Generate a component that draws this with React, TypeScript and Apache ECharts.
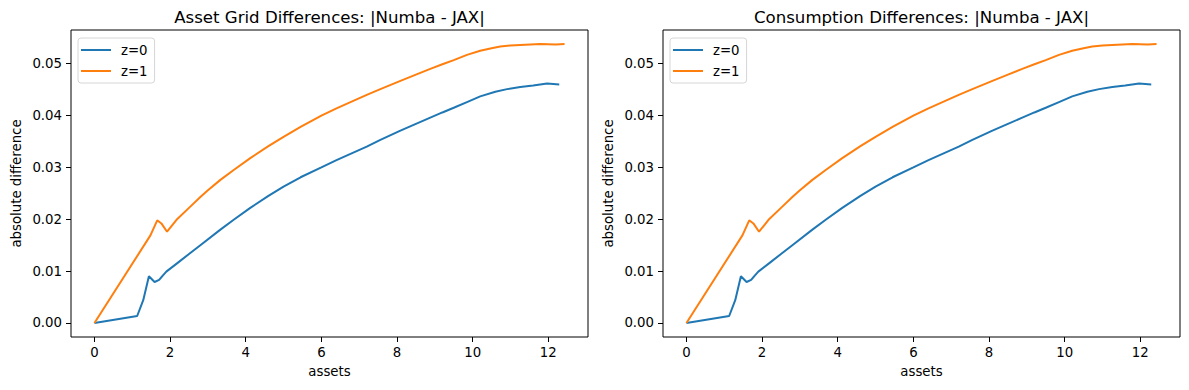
import React, { useEffect, useRef } from "react";
import * as echarts from "echarts";

// ---- data ----
const titles = ["Asset Grid Differences: |Numba - JAX|", "Consumption Differences: |Numba - JAX|"];
const seriesNames = ["z=0", "z=1"];
const xTicks = [0, 2, 4, 6, 8, 10, 12];
const yTicks = [0, 0.01, 0.02, 0.03, 0.04, 0.05];

const assetsZ0 = [0, 1.13, 1.29, 1.44, 1.59, 1.71, 1.8, 1.9, 2.2, 2.5, 2.8, 3.33, 3.7, 4.12, 4.6, 5.0, 5.45, 6.0, 6.4, 6.77, 7.2, 7.56, 8.09, 8.5, 8.88, 9.2, 9.5, 9.85, 10.2, 10.6, 10.91, 11.26, 11.6, 11.97, 12.29];
const diffZ0 = [0, 0.00135, 0.0044, 0.009, 0.0079, 0.0083, 0.0091, 0.0099, 0.0116, 0.0133, 0.015, 0.018, 0.02, 0.0222, 0.0245, 0.0263, 0.0281, 0.03, 0.0314, 0.0326, 0.034, 0.0353, 0.0371, 0.0384, 0.0396, 0.0406, 0.0415, 0.0426, 0.0437, 0.0446, 0.0451, 0.0455, 0.0458, 0.0462, 0.046];

const assetsZ1 = [0, 1.48, 1.66, 1.77, 1.92, 2.17, 2.5, 2.8, 3.0, 3.33, 3.7, 4.12, 4.6, 5.0, 5.45, 6.0, 6.4, 6.77, 7.2, 7.56, 8.09, 8.5, 8.88, 9.2, 9.5, 9.85, 10.2, 10.5, 10.73, 11.0, 11.26, 11.79, 12.2, 12.43];
const diffZ1 = [0, 0.0169, 0.0198, 0.0192, 0.0176, 0.0199, 0.0222, 0.0243, 0.0256, 0.0276, 0.0296, 0.0318, 0.0341, 0.0359, 0.0378, 0.04, 0.0414, 0.0426, 0.044, 0.0451, 0.0467, 0.0479, 0.049, 0.0499, 0.0507, 0.0517, 0.0525, 0.053, 0.0533, 0.0535, 0.0536, 0.0538, 0.0537, 0.0538];

const colors = ["#1f77b4", "#ff7f0e"];
const FONT = "DejaVu Sans";

export default function App() {
  const ref = useRef<HTMLDivElement>(null);
  useEffect(() => {
    if (!ref.current) return;
    const chart = echarts.init(ref.current, undefined, { renderer: "svg" });
    const gridLefts = [71, 663];
    const gridTop = 30;
    const gridW = 517;
    const gridH = 307;
    const pairs = (xs: number[], ys: number[]) => xs.map((x, i) => [x, ys[i]]);

    const grids: any[] = [];
    const xAxes: any[] = [];
    const yAxes: any[] = [];
    const series: any[] = [];
    const legends: any[] = [];
    const graphics: any[] = [];

    gridLefts.forEach((gl, k) => {
      grids.push({ left: gl, top: gridTop, width: gridW, height: gridH, show: true, borderColor: "#000", borderWidth: 1, backgroundColor: "transparent", containLabel: false });
      xAxes.push({
        type: "value", gridIndex: k, min: -0.62, max: 13.05,
        name: "assets", nameLocation: "middle", nameGap: 28,
        nameTextStyle: { fontFamily: FONT, fontSize: 13.3, color: "#000" },
        axisLine: { show: false, onZero: false },
        axisTick: { show: true, length: 5, lineStyle: { color: "#000", width: 1 }, customValues: xTicks },
        axisLabel: { show: true, margin: 9, fontFamily: FONT, fontSize: 13.3, color: "#000", customValues: xTicks, formatter: (v: number) => String(v) },
        splitLine: { show: false },
      });
      yAxes.push({
        type: "value", gridIndex: k, min: -0.0027, max: 0.0565,
        name: "absolute difference", nameLocation: "middle", nameGap: 48,
        nameTextStyle: { fontFamily: FONT, fontSize: 13.3, color: "#000" },
        axisLine: { show: false, onZero: false },
        axisTick: { show: true, length: 5, lineStyle: { color: "#000", width: 1 }, customValues: yTicks },
        axisLabel: { show: true, margin: 9, fontFamily: FONT, fontSize: 13.3, color: "#000", customValues: yTicks, formatter: (v: number) => v.toFixed(2) },
        splitLine: { show: false },
      });
      series.push({
        type: "line", name: seriesNames[0], xAxisIndex: k, yAxisIndex: k,
        data: pairs(assetsZ0, diffZ0), symbol: "none", showSymbol: false,
        lineStyle: { color: colors[0], width: 2 }, itemStyle: { color: colors[0] },
      });
      series.push({
        type: "line", name: seriesNames[1], xAxisIndex: k, yAxisIndex: k,
        data: pairs(assetsZ1, diffZ1), symbol: "none", showSymbol: false,
        lineStyle: { color: colors[1], width: 2 }, itemStyle: { color: colors[1] },
      });
      legends.push({
        data: seriesNames, orient: "vertical", left: gl + 7, top: 38,
        icon: "rect", itemWidth: 30, itemHeight: 2, itemGap: 7,
        padding: [5, 7, 5, 3],
        borderColor: "#d6d6d6", borderWidth: 1, borderRadius: 3, backgroundColor: "rgba(255,255,255,0.8)",
        selectedMode: false,
        textStyle: { fontFamily: FONT, fontSize: 13.3, color: "#000", lineHeight: 14, padding: [0, 0, 0, 5] },
      });
      graphics.push({
        type: "text", x: gl + gridW / 2, y: 17,
        style: { text: titles[k], fontFamily: FONT, fontSize: 16.6, fill: "#000", textAlign: "center", textVerticalAlign: "middle" },
      });
    });

    chart.setOption({
      animation: false,
      backgroundColor: "#fff",
      grid: grids,
      xAxis: xAxes,
      yAxis: yAxes,
      series,
      legend: legends,
      graphic: graphics,
    });
    return () => chart.dispose();
  }, []);
  return <div ref={ref} style={{ position: "fixed", left: 0, top: 0, width: 1189, height: 390 }} />;
}
